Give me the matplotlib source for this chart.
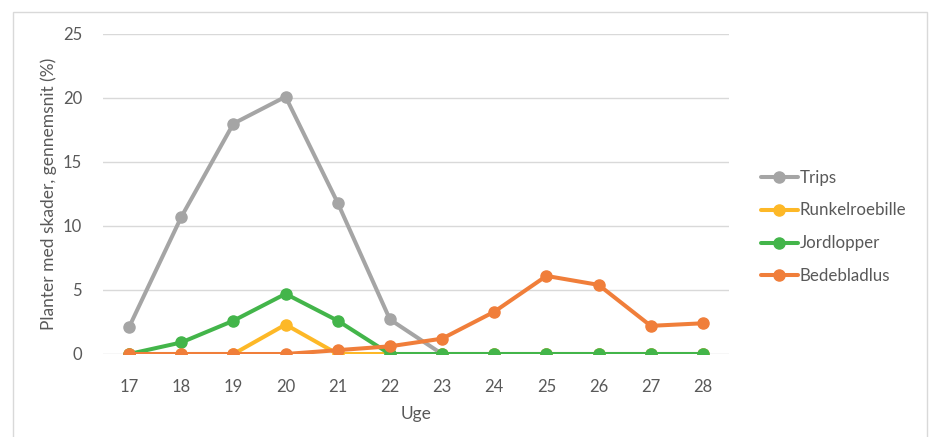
import matplotlib
matplotlib.use("Agg")
import matplotlib.pyplot as plt
from matplotlib.patches import Rectangle

weeks = [17, 18, 19, 20, 21, 22, 23, 24, 25, 26, 27, 28]
trips = [2.1, 10.7, 18.0, 20.1, 11.8, 2.7, 0, 0, 0, 0, 0, 0]
runkelroebille = [0, 0, 0, 2.3, 0, 0, 0, 0, 0, 0, 0, 0]
jordlopper = [0, 0.9, 2.6, 4.7, 2.6, 0, 0, 0, 0, 0, 0, 0]
bedebladlus = [0, 0, 0, 0, 0.3, 0.6, 1.2, 3.3, 6.1, 5.4, 2.2, 2.4]

series_names = ["Trips", "Runkelroebille", "Jordlopper", "Bedebladlus"]
series_values = [trips, runkelroebille, jordlopper, bedebladlus]
colors = ["#A5A5A5", "#FDB827", "#43B54A", "#F07E3A"]
yticks = [0, 5, 10, 15, 20, 25]

plt.rcParams['font.family'] = ['Lato', 'DejaVu Sans']
txt = "#595959"

fig = plt.figure(figsize=(9.30, 4.37), dpi=100)
fig.patches.append(Rectangle((13/930, -0.05), (927-13)/930, 1.05 - 12/437,
                             transform=fig.transFigure, fill=False,
                             edgecolor="#D9D9D9", linewidth=1.0))
ax = fig.add_axes([103/930, 1 - 354/437, (729-103)/930, (354-34)/437])

x = list(range(len(weeks)))
for name, vals, c in zip(series_names, series_values, colors):
    ax.plot(x, vals, color=c, linewidth=2.9, marker='o', markersize=8,
            label=name, solid_capstyle='round')

ax.set_xlim(-0.5, len(weeks) - 0.5)
ax.set_ylim(0, 25)
ax.set_xticks(x)
ax.set_xticklabels([str(w) for w in weeks])
ax.set_yticks(yticks)
ax.set_yticklabels([str(v) for v in yticks])
ax.grid(axis='y', color="#D9D9D9", linewidth=1.0)
ax.set_axisbelow(True)
for s in ax.spines.values():
    s.set_visible(False)
ax.tick_params(axis='x', length=0, labelsize=12, colors=txt, pad=18)
ax.tick_params(axis='y', length=0, labelsize=12, colors=txt, pad=15)
ax.set_xlabel("Uge", fontsize=12.5, color=txt, labelpad=8)
ax.set_ylabel("Planter med skader, gennemsnit (%)", fontsize=12.5, color=txt, labelpad=4)

leg = ax.legend(loc='center left', bbox_to_anchor=(1.04, 0.397), frameon=False,
                fontsize=12.2, handlelength=2.2, handletextpad=0.1,
                labelspacing=1.0, borderaxespad=0)
for t in leg.get_texts():
    t.set_color(txt)

fig.savefig("out.png", dpi=100)
